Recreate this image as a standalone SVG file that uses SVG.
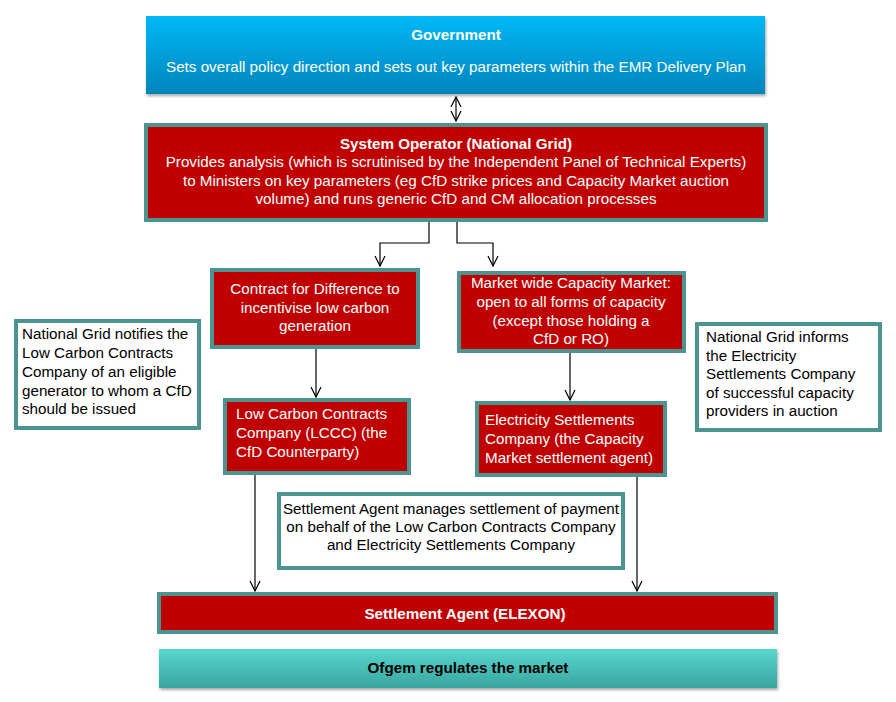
<svg xmlns="http://www.w3.org/2000/svg" width="896" height="702" viewBox="0 0 896 702">
<defs>
<linearGradient id="gBlue" x1="0" y1="0" x2="0" y2="1">
<stop offset="0" stop-color="#00b9f6"/>
<stop offset="1" stop-color="#0084bd"/>
</linearGradient>
<linearGradient id="gTeal" x1="0" y1="0" x2="0" y2="1">
<stop offset="0" stop-color="#57d7cf"/>
<stop offset="1" stop-color="#3aa49f"/>
</linearGradient>
<filter id="shadow" x="-5%" y="-20%" width="110%" height="150%">
<feDropShadow dx="1" dy="2" stdDeviation="1.5" flood-color="#000" flood-opacity="0.35"/>
</filter>
<marker id="arr" markerWidth="12" markerHeight="12" refX="11" refY="6" orient="auto-start-reverse" markerUnits="userSpaceOnUse" viewBox="0 0 12 12">
<polyline points="1,1 11,6 1,11" fill="none" stroke="#000" stroke-width="1.2"/>
</marker>
</defs>
<style>
.red{fill:#c00000;stroke:#4b948f;stroke-width:4}
.note{fill:#fff;stroke:#4b948f;stroke-width:4}
.t{font-family:"Liberation Sans",Arial,sans-serif;font-size:15.2px}
.w{fill:#fff}
.k{fill:#000}
.b{font-weight:bold}
.c{text-anchor:middle}
.conn{fill:none;stroke:#000;stroke-width:1.2}
</style>
<rect width="896" height="702" fill="#fff"/>

<g id="government">
<rect x="146" y="16" width="619" height="78" fill="url(#gBlue)" filter="url(#shadow)"/>
<text class="t w b c" x="456" y="40">Government</text>
<text class="t w c" x="456" y="72">Sets overall policy direction and sets out key parameters within the EMR Delivery Plan</text>
</g>

<g id="system-operator">
<rect class="red" x="146" y="125" width="620" height="95"/>
<text class="t w b c" x="456" y="149">System Operator (National Grid)</text>
<text class="t w c" x="456" y="167">Provides analysis (which is scrutinised by the Independent Panel of Technical Experts)</text>
<text class="t w c" x="456" y="186">to Ministers on key parameters (eg CfD strike prices and Capacity Market auction</text>
<text class="t w c" x="456" y="204">volume) and runs generic CfD and CM allocation processes</text>
</g>

<g id="cfd">
<rect class="red" x="212" y="270" width="206" height="77"/>
<text class="t w c" x="315" y="294">Contract for Difference to</text>
<text class="t w c" x="315" y="313">incentivise low carbon</text>
<text class="t w c" x="315" y="331">generation</text>
</g>

<g id="capacity-market">
<rect class="red" x="459" y="273" width="225" height="78"/>
<text class="t w c" x="571" y="288">Market wide Capacity Market:</text>
<text class="t w c" x="571" y="307">open to all forms of capacity</text>
<text class="t w c" x="571" y="326">(except those holding a</text>
<text class="t w c" x="571" y="344">CfD or RO)</text>
</g>

<g id="note-left">
<rect class="note" x="16" y="321" width="183" height="107"/>
<text class="t k" x="22" y="339">National Grid notifies the</text>
<text class="t k" x="22" y="358">Low Carbon Contracts</text>
<text class="t k" x="22" y="377">Company of an eligible</text>
<text class="t k" x="22" y="396">generator to whom a CfD</text>
<text class="t k" x="22" y="414">should be issued</text>
</g>

<g id="note-right">
<rect class="note" x="697" y="324" width="183" height="106"/>
<text class="t k" x="706" y="342">National Grid informs</text>
<text class="t k" x="706" y="361">the Electricity</text>
<text class="t k" x="706" y="379">Settlements Company</text>
<text class="t k" x="706" y="398">of successful capacity</text>
<text class="t k" x="706" y="416">providers in auction</text>
</g>

<g id="lccc">
<rect class="red" x="225" y="400" width="184" height="73"/>
<text class="t w" x="236" y="419">Low Carbon Contracts</text>
<text class="t w" x="236" y="438">Company (LCCC) (the</text>
<text class="t w" x="236" y="457">CfD Counterparty)</text>
</g>

<g id="esc">
<rect class="red" x="477" y="403" width="188" height="72"/>
<text class="t w" x="485" y="425">Electricity Settlements</text>
<text class="t w" x="485" y="444">Company (the Capacity</text>
<text class="t w" x="485" y="463">Market settlement agent)</text>
</g>

<g id="note-settlement">
<rect class="note" x="279" y="494" width="344" height="74"/>
<text class="t k c" x="451" y="514">Settlement Agent manages settlement of payment</text>
<text class="t k c" x="451" y="532">on behalf of the Low Carbon Contracts Company</text>
<text class="t k c" x="451" y="550">and Electricity Settlements Company</text>
</g>

<g id="settlement-agent">
<rect class="red" x="159" y="594" width="617" height="38"/>
<text class="t w b c" x="465" y="619">Settlement Agent (ELEXON)</text>
</g>

<g id="ofgem">
<rect x="159" y="649" width="618" height="39" fill="url(#gTeal)" filter="url(#shadow)"/>
<text class="t k b c" x="468" y="673">Ofgem regulates the market</text>
</g>

<g id="connectors">
<path class="conn" d="M456 97 V121" marker-start="url(#arr)" marker-end="url(#arr)"/>
<path class="conn" d="M429 222 V243 H380 V266" marker-end="url(#arr)"/>
<path class="conn" d="M457 222 V243 H493 V266" marker-end="url(#arr)"/>
<path class="conn" d="M316 349 V397" marker-end="url(#arr)"/>
<path class="conn" d="M570 353 V400" marker-end="url(#arr)"/>
<path class="conn" d="M255 475 V591" marker-end="url(#arr)"/>
<path class="conn" d="M637 477 V591" marker-end="url(#arr)"/>
</g>
</svg>
